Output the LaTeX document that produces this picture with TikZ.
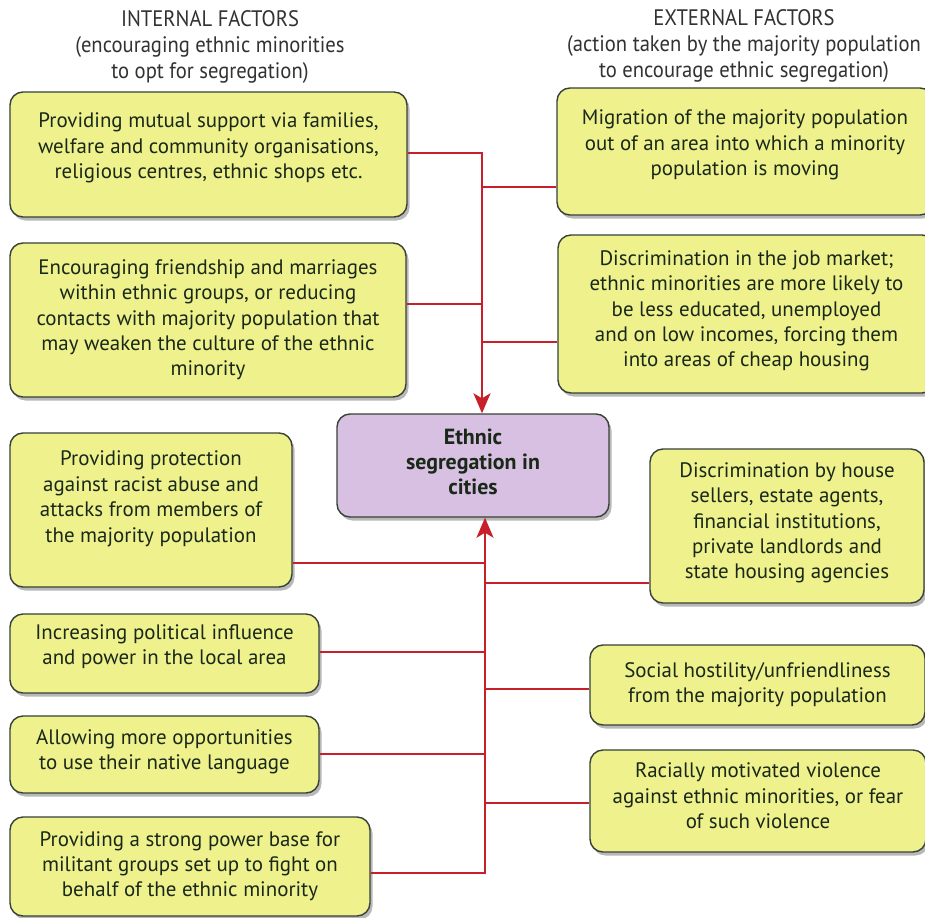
\documentclass[tikz,border=0pt]{standalone}
\usepackage{fontspec}
\setmainfont{PT Sans}
\newfontfamily\headfont[FakeStretch=0.92]{PT Sans}
\usetikzlibrary{shadows,arrows.meta}
\definecolor{boxfill}{RGB}{238,241,140}
\definecolor{boxline}{RGB}{55,65,55}
\definecolor{centerfill}{RGB}{216,192,226}
\definecolor{linered}{RGB}{200,32,42}
\definecolor{txtcol}{RGB}{25,40,25}
\definecolor{headcol}{RGB}{50,50,50}
\newcommand\boxtxt[2]{\raisebox{0pt}[\height][\dimexpr\depth+#1\relax]{\begin{tabular}{@{}c@{}}#2\end{tabular}}}
\begin{document}
\begin{tikzpicture}[x=1bp,y=-1bp,
  factor/.style={draw=boxline, line width=1.4bp, fill=boxfill, rounded corners=13bp,
    inner sep=0pt, text=txtcol, font=\fontsize{21}{25.5}\selectfont,
    drop shadow={shadow xshift=2.5bp, shadow yshift=-3.5bp, opacity=0.28, fill=black}},
  centre/.style={factor, fill=centerfill, font=\bfseries\fontsize{22}{25.5}\selectfont},
  head/.style={align=center, text=headcol, inner sep=0pt, font=\headfont\fontsize{22.5}{26}\selectfont},
  conn/.style={draw=linered, line width=2.2bp},
  tip/.style={-{Stealth[length=20bp,width=17bp,inset=5bp]}}]
\useasboundingbox (0,0) rectangle (925,918);
\fill[white] (0,0) rectangle (925,918);

% headers
\node[head] (hl) at (210,47) {INTERNAL FACTORS\\(encouraging ethnic minorities\\to opt for segregation)};
\node[head] (hr) at (744,46) {EXTERNAL FACTORS\\(action taken by the majority population\\to encourage ethnic segregation)};

% centre
\node[centre, minimum width=272bp, minimum height=103bp] (c) at (473,465.5)
  {\boxtxt{2bp}{Ethnic\\segregation in\\cities}};

% left boxes
\node[factor, minimum width=397bp, minimum height=125bp] (l1) at (208.5,154.5)
  {\boxtxt{13bp}{Providing mutual support via families,\\welfare and community organisations,\\religious centres, ethnic shops etc.}};
\node[factor, minimum width=396bp, minimum height=154bp] (l2) at (208,320)
  {\boxtxt{0bp}{Encouraging friendship and marriages\\within ethnic groups, or reducing\\contacts with majority population that\\may weaken the culture of the ethnic\\minority}};
\node[factor, minimum width=282bp, minimum height=154bp] (l3) at (151,510)
  {\boxtxt{22bp}{Providing protection\\against racist abuse and\\attacks from members of\\the majority population}};
\node[factor, minimum width=309bp, minimum height=79bp] (l4) at (164.5,653.5)
  {\boxtxt{13bp}{Increasing political influence\\and power in the local area}};
\node[factor, minimum width=309bp, minimum height=77bp] (l5) at (164.5,754.5)
  {\boxtxt{5bp}{Allowing more opportunities\\to use their native language}};
\node[factor, minimum width=360bp, minimum height=99bp] (l6) at (190,866.5)
  {\boxtxt{0bp}{Providing a strong power base for\\militant groups set up to fight on\\behalf of the ethnic minority}};

% right boxes
\node[factor, minimum width=376bp, minimum height=127bp] (r1) at (745,151.5)
  {\boxtxt{13bp}{Migration of the majority population\\out of an area into which a minority\\population is moving}};
\node[factor, minimum width=377bp, minimum height=158bp] (r2) at (746.5,314)
  {\boxtxt{6bp}{Discrimination in the job market;\\ethnic minorities are more likely to\\be less educated, unemployed\\and on low incomes, forcing them\\into areas of cheap housing}};
\node[factor, minimum width=274bp, minimum height=154bp] (r3) at (787,526)
  {\boxtxt{6bp}{Discrimination by house\\sellers, estate agents,\\financial institutions,\\private landlords and\\state housing agencies}};
\node[factor, minimum width=335bp, minimum height=80bp] (r4) at (757.5,685)
  {\boxtxt{0bp}{Social hostility/unfriendliness\\from the majority population}};
\node[factor, minimum width=336bp, minimum height=102bp] (r5) at (758,801)
  {\boxtxt{6bp}{Racially motivated violence\\against ethnic minorities, or fear\\of such violence}};

% upper connector tree
\coordinate (u1) at (482,153);
\coordinate (u2) at (482,187);
\coordinate (u3) at (482,304);
\coordinate (u4) at (482,342);
\draw[conn, tip] (u1 -| l1.east) -- (u1) -- (u1 |- c.north);
\draw[conn] (u2 -| r1.west) -- (u2);
\draw[conn] (u3 -| l2.east) -- (u3);
\draw[conn] (u4 -| r2.west) -- (u4);

% lower connector tree
\coordinate (d0) at (485,873);
\coordinate (d1) at (485,563);
\coordinate (d2) at (485,583);
\coordinate (d3) at (485,652);
\coordinate (d4) at (485,689);
\coordinate (d5) at (485,754);
\coordinate (d6) at (485,803);
\draw[conn, tip] (d0 -| l6.east) -- (d0) -- (d0 |- c.south);
\draw[conn] (d1 -| l3.east) -- (d1);
\draw[conn] (d2 -| r3.west) -- (d2);
\draw[conn] (d3 -| l4.east) -- (d3);
\draw[conn] (d4 -| r4.west) -- (d4);
\draw[conn] (d5 -| l5.east) -- (d5);
\draw[conn] (d6 -| r5.west) -- (d6);
\end{tikzpicture}
\end{document}
